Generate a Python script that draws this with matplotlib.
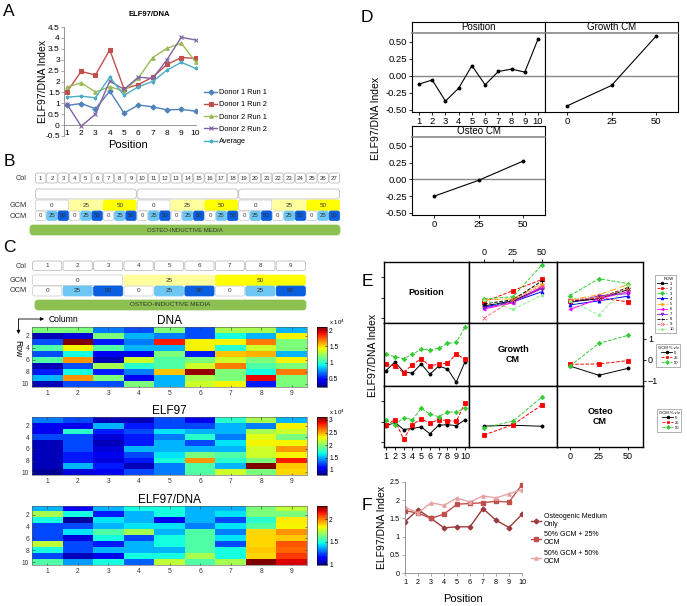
import numpy as np
import matplotlib
matplotlib.use('Agg')
import matplotlib.pyplot as plt
from matplotlib.patches import FancyBboxPatch
from matplotlib.lines import Line2D

plt.rcParams['font.family'] = ['Liberation Sans', 'DejaVu Sans']

# ---------------- data ----------------
positions = np.arange(1, 11)

# panel A
donor1_run1 = [0.90, 0.99, 0.75, 1.56, 0.55, 0.92, 0.84, 0.70, 0.72, 0.64]
donor1_run2 = [1.52, 2.46, 2.30, 3.45, 1.66, 1.86, 2.20, 2.78, 3.10, 3.06]
donor2_run1 = [1.74, 1.94, 1.52, 1.76, 1.56, 2.16, 3.10, 3.52, 3.76, 2.90]
donor2_run2 = [0.97, -0.05, 0.50, 2.02, 1.64, 2.20, 2.14, 3.00, 4.03, 3.90]
average = [1.28, 1.33, 1.25, 2.20, 1.36, 1.76, 2.00, 2.52, 2.88, 2.60]
a_labels = ['Donor 1 Run 1', 'Donor 1 Run 2', 'Donor 2 Run 1', 'Donor 2 Run 2', 'Average']

# panels B / C (plate layout)
b_cols = list(range(1, 28))
b_gcm = [0, 25, 50] * 3
b_ocm = [0, 25, 50] * 9
c_cols = list(range(1, 10))
c_gcm = [0, 25, 50]
c_ocm = [0, 25, 50] * 3

# heatmaps (rows 1..10, columns 1..9)
dna = [[1.18, 1.18, 0.71, 0.62, 1.18, 0.62, 1.27, 1.27, 0.81],
       [0.34, 0.40, 1.18, 0.81, 0.71, 0.62, 0.95, 0.81, 1.45],
       [0.62, 2.10, 0.53, 0.71, 1.88, 1.45, 1.45, 1.69, 1.18],
       [1.08, 1.45, 1.08, 0.81, 0.81, 1.45, 0.99, 1.36, 1.18],
       [0.62, 0.95, 0.44, 0.44, 1.18, 0.53, 1.55, 1.58, 0.81],
       [1.08, 1.64, 0.34, 1.36, 1.08, 1.18, 1.36, 1.18, 1.45],
       [0.34, 0.62, 1.27, 0.99, 1.08, 1.36, 1.69, 1.08, 1.18],
       [0.53, 0.95, 0.53, 0.71, 1.55, 2.06, 1.18, 0.95, 1.69],
       [0.81, 1.64, 1.18, 0.44, 0.81, 1.27, 1.18, 1.92, 1.18],
       [0.34, 0.62, 0.62, 1.18, 0.81, 1.36, 1.45, 0.53, 1.18]]
elf97 = [[1.38, 1.26, 0.92, 0.92, 1.26, 1.03, 1.73, 2.08, 1.50],
         [1.03, 1.03, 1.50, 1.15, 1.26, 1.26, 1.50, 1.38, 2.31],
         [1.03, 1.73, 1.15, 1.26, 1.61, 1.50, 1.50, 2.08, 2.19],
         [1.26, 1.26, 0.99, 1.15, 1.38, 1.73, 1.38, 2.24, 1.96],
         [0.92, 1.26, 0.92, 1.15, 1.50, 1.26, 1.61, 2.31, 2.31],
         [0.92, 1.26, 0.99, 1.50, 1.50, 1.50, 1.50, 2.19, 2.54],
         [0.92, 1.15, 1.03, 1.26, 1.61, 1.96, 1.84, 2.19, 2.31],
         [0.92, 1.15, 0.99, 1.15, 1.68, 2.54, 1.73, 1.96, 2.84],
         [0.92, 1.50, 1.15, 0.92, 1.38, 1.84, 1.50, 3.12, 2.42],
         [0.85, 0.99, 1.03, 1.26, 1.38, 1.84, 2.19, 1.96, 2.38]]
ratio = [[1.38, 1.14, 1.38, 1.48, 1.48, 1.38, 1.38, 1.64, 1.75],
         [1.71, 1.48, 1.18, 1.38, 1.48, 1.38, 1.44, 1.64, 1.64],
         [1.48, 1.02, 1.44, 1.38, 1.11, 1.38, 1.24, 1.51, 1.85],
         [1.24, 1.24, 1.38, 1.44, 1.44, 1.31, 1.44, 1.57, 1.84],
         [1.24, 1.44, 1.57, 1.71, 1.38, 1.57, 1.31, 1.88, 1.97],
         [1.24, 1.09, 1.48, 1.24, 1.48, 1.57, 1.44, 1.88, 1.90],
         [1.75, 1.24, 1.18, 1.38, 1.48, 1.57, 1.24, 1.88, 2.06],
         [1.48, 1.24, 1.38, 1.38, 1.38, 1.57, 1.48, 1.90, 2.04],
         [1.24, 1.05, 1.11, 1.48, 1.48, 1.71, 1.48, 1.88, 2.10],
         [1.57, 1.35, 1.48, 1.27, 1.75, 1.57, 1.71, 2.30, 2.19]]
dna_clim = (0.25, 2.1)
elf_clim = (0.8, 3.12)
ratio_clim = (0.98, 2.3)

# panel D main effects
levels = [0, 25, 50]
d_position = [-0.12, -0.06, -0.37, -0.18, 0.15, -0.13, 0.065, 0.10, 0.055, 0.54]
d_growth = [-0.44, -0.14, 0.58]
d_osteo = [-0.25, -0.015, 0.27]

# panel E interactions
row_vs_gcm = [[-0.40, -0.15, 0.50], [-0.20, 0.35, 0.90], [-0.05, 0.05, 1.62],
              [-0.45, -0.20, 0.30], [-0.10, -0.05, 0.70], [-0.55, -0.25, 0.55],
              [-0.50, -0.20, 0.45], [-0.30, -0.10, 0.83], [-1.00, -0.10, 0.60],
              [-0.10, -0.57, 0.14]]
row_vs_ocm = [[-0.20, -0.05, 0.40], [-0.15, 0.00, -0.20], [0.11, 0.94, 0.70],
              [-0.35, -0.15, 0.08], [-0.10, 0.15, 0.65], [-0.57, -0.05, 0.30],
              [-0.25, 0.10, 0.20], [-0.20, 0.00, 0.50], [-0.10, 0.00, 0.45],
              [-0.15, -0.84, 0.65]]
gcm_vs_pos = [[-0.51, -0.10, -0.56, -0.63, -0.19, -0.68, -0.29, -0.43, -1.06, -0.08],
              [-0.19, -0.29, -0.60, -0.22, 0.06, -0.29, -0.19, -0.16, 0.29, 0.03],
              [0.27, 0.16, 0.06, 0.27, 0.51, 0.48, 0.56, 0.79, 0.84, 1.56]]
gcm_vs_ocm = [[-0.29, -0.73, -0.40], [-0.21, -0.19, -0.03], [-0.29, 0.79, 1.17]]
ocm_vs_pos = [[-0.22, -0.02, -0.38, -0.33, -0.25, -0.59, -0.17, -0.14, -0.19, 0.10],
              [-0.17, 0.10, -0.86, -0.14, 0.14, -0.06, 0.10, 0.06, 0.02, 0.94],
              [0.10, -0.17, 0.21, 0.10, 0.67, 0.38, 0.25, 0.49, 0.46, 0.70]]
ocm_vs_gcm = [[-0.21, -0.17, -0.22], [-0.65, -0.14, 0.83], [-0.30, 0.03, 1.22]]

# panel F
osteo_only = [1.41, 1.74, 1.50, 1.24, 1.27, 1.27, 1.77, 1.45, 1.25, 1.61]
gcm50_ocm25 = [1.71, 1.65, 1.50, 1.62, 1.89, 1.91, 1.93, 1.97, 1.95, 2.43]
gcm50_ocm50 = [1.81, 1.65, 1.93, 1.86, 2.06, 1.95, 2.12, 2.06, 2.18, 2.29]
f_labels = ['Osteogenic Medium\nOnly', '50% GCM + 25%\nOCM', '50% GCM + 50%\nOCM']

# ---------------- figure ----------------
W, H = 687, 606
fig = plt.figure(figsize=(W / 100, H / 100), dpi=100)


def px_axes(x0, y0, x1, y1):
    return fig.add_axes([x0 / W, 1 - y1 / H, (x1 - x0) / W, (y1 - y0) / H])


def ftext(x, y, s, **kw):
    kw.setdefault('ha', 'center')
    kw.setdefault('va', 'center')
    return fig.text(x / W, 1 - y / H, s, **kw)


ov = px_axes(0, 0, W, H)
ov.set_xlim(0, W)
ov.set_ylim(H, 0)
ov.axis('off')


def box(x0, y0, x1, y1, fc='white', ec='#b0b0b0', txt=None, fs=4.5, tc='#333333', r=2.0):
    p = FancyBboxPatch((x0, y0), x1 - x0, y1 - y0,
                       boxstyle='round,pad=0,rounding_size=%g' % r,
                       fc=fc, ec=ec, lw=0.5)
    ov.add_patch(p)
    if txt is not None:
        ov.text((x0 + x1) / 2, (y0 + y1) / 2, txt, ha='center', va='center', fontsize=fs, color=tc)


gcm_fill = {0: 'white', 25: '#ffff9e', 50: '#ffff00'}
ocm_fill = {0: 'white', 25: '#6ec6f5', 50: '#0a5ee0'}
green = '#8cc152'
grey_axis = '#868686'

# panel letters
for s, (x, y) in zip('ABCDEF', [(9, 11), (9, 162), (9, 247), (367, 17), (367, 282), (367, 505)]):
    ftext(x, y, s, fontsize=12.5)

# ---------------- A ----------------
axA = px_axes(64, 27, 197, 136)
a_series = [donor1_run1, donor1_run2, donor2_run1, donor2_run2, average]
a_colors = ['#4f81bd', '#c0504d', '#9bbb59', '#8064a2', '#4bacc6']
a_markers = ['D', 's', '^', 'x', (6, 2, 0)]
for vals, c, m, lab in zip(a_series, a_colors, a_markers, a_labels):
    axA.plot(positions, vals, color=c, marker=m, ms=2.6, mew=0.8, lw=1.0, label=lab)
axA.set_xlim(0.8, 10.1)
axA.set_ylim(-0.5, 4.5)
axA.set_yticks(np.arange(-0.5, 4.6, 0.5))
axA.set_yticklabels(['%g' % v for v in np.arange(-0.5, 4.6, 0.5)])
axA.set_xticks(positions)
axA.axhline(0, color=grey_axis, lw=0.6, zorder=0)
for s in ['top', 'right', 'bottom']:
    axA.spines[s].set_visible(False)
axA.spines['left'].set_color(grey_axis)
axA.spines['left'].set_linewidth(0.6)
axA.tick_params(axis='y', labelsize=6, length=2, width=0.5, color=grey_axis, pad=1)
axA.tick_params(axis='x', labelsize=6, length=0, pad=-4)
axA.patch.set_alpha(0)
axA.legend(loc='upper left', bbox_to_anchor=(204 / W, 1 - 89 / H), bbox_transform=fig.transFigure,
           frameon=False, fontsize=5.3, handlelength=1.8, labelspacing=0.7, borderpad=0,
           handletextpad=0.3, borderaxespad=0)
ftext(149, 15, 'ELF97/DNA', fontsize=5.5, fontweight='bold')
ftext(43, 81, 'ELF97/DNA Index', fontsize=7.5, rotation=90)
ftext(128, 145, 'Position', fontsize=8)

# ---------------- B ----------------
bx0, bx1 = 35, 340
cw = (bx1 - bx0) / len(b_cols)
for i, c in enumerate(b_cols):
    box(bx0 + i * cw + 0.4, 173, bx0 + (i + 1) * cw - 0.4, 183, txt=str(c), fs=4.3)
for g in range(3):
    box(bx0 + g * 9 * cw + 0.4, 189, bx0 + (g + 1) * 9 * cw - 0.4, 199, r=3)
for i, lv in enumerate(b_gcm):
    box(bx0 + i * 3 * cw + 0.4, 200, bx0 + (i + 1) * 3 * cw - 0.4, 210.5,
        fc=gcm_fill[lv], ec='#c8c8c8' if lv == 0 else gcm_fill[lv], txt=str(lv), fs=4.5)
for i, lv in enumerate(b_ocm):
    box(bx0 + i * cw + 0.4, 211, bx0 + (i + 1) * cw - 0.4, 220.5,
        fc=ocm_fill[lv], ec='#c8c8c8' if lv == 0 else ocm_fill[lv], txt=str(lv), fs=4.3)
box(30, 225, 340, 235, fc=green, ec=green, txt='OSTEO-INDUCTIVE MEDIA', fs=4.3, r=3)
ftext(27, 178, 'Col', fontsize=5.3, ha='right', color='#333333')
ftext(27, 205.5, 'GCM', fontsize=5.3, ha='right', color='#333333')
ftext(27, 216, 'OCM', fontsize=5.3, ha='right', color='#333333')

# ---------------- C ----------------
cx0, cx1 = 32, 306
cw = (cx1 - cx0) / len(c_cols)
for i, c in enumerate(c_cols):
    box(cx0 + i * cw + 0.6, 261, cx0 + (i + 1) * cw - 0.6, 270.5, txt=str(c), fs=4.5)
for i, lv in enumerate(c_gcm):
    box(cx0 + i * 3 * cw + 0.6, 275, cx0 + (i + 1) * 3 * cw - 0.6, 285.5,
        fc=gcm_fill[lv], ec='#c8c8c8' if lv == 0 else gcm_fill[lv], txt=str(lv), fs=4.6)
for i, lv in enumerate(c_ocm):
    box(cx0 + i * cw + 0.6, 286, cx0 + (i + 1) * cw - 0.6, 296,
        fc=ocm_fill[lv], ec='#c8c8c8' if lv == 0 else ocm_fill[lv], txt=str(lv), fs=4.6)
box(35, 300, 306, 310, fc=green, ec=green, txt='OSTEO-INDUCTIVE MEDIA', fs=4.6, r=3)
ftext(27, 266, 'Col', fontsize=5.3, ha='right', color='#333333')
ftext(27, 280, 'GCM', fontsize=5.3, ha='right', color='#333333')
ftext(27, 291, 'OCM', fontsize=5.3, ha='right', color='#333333')

# arrows for heatmap orientation
ov.annotate('', xy=(44, 319), xytext=(18.5, 319),
            arrowprops=dict(arrowstyle='-|>', lw=0.6, color='black', mutation_scale=5, shrinkA=0, shrinkB=0))
ov.annotate('', xy=(18.5, 334), xytext=(18.5, 319),
            arrowprops=dict(arrowstyle='-|>', lw=0.6, color='black', mutation_scale=5, shrinkA=0, shrinkB=0))
ftext(49, 319, 'Column', fontsize=6.2, ha='left')
ftext(18, 349, 'Row', fontsize=6.2, rotation=-90)

heat = [(dna, dna_clim, 'DNA', 327, 387, [0.5, 1, 1.5, 2], True),
        (elf97, elf_clim, 'ELF97', 417, 475, [1, 1.5, 2, 2.5, 3], True),
        (ratio, ratio_clim, 'ELF97/DNA', 506, 565, [1, 1.5, 2], False)]
for mat, clim, title, y0, y1, cticks, sci in heat:
    ax = px_axes(32, y0, 307, y1)
    im = ax.imshow(np.array(mat), cmap='jet', vmin=clim[0], vmax=clim[1], aspect='auto',
                   interpolation='nearest', extent=(0.5, 9.5, 10.5, 0.5))
    ax.set_xticks(c_cols)
    ax.set_yticks([2, 4, 6, 8, 10])
    ax.tick_params(labelsize=4.8, length=1.8, width=0.4, direction='in', top=True, right=True,
                   pad=2, colors='#333333')
    for s in ax.spines.values():
        s.set_linewidth(0.4)
        s.set_color('#555555')
    ax.set_title(title, fontsize=8.5, pad=2)
    cax = px_axes(317, y0, 327, y1)
    cb = fig.colorbar(im, cax=cax)
    cb.set_ticks(cticks)
    cb.ax.set_yticklabels(['%g' % t for t in cticks])
    cb.ax.tick_params(labelsize=4.8, length=1.8, width=0.4, direction='in', pad=1.5)
    cb.outline.set_linewidth(0.4)
    if sci:
        ftext(329, y0 - 5, r'x 10$^4$', fontsize=4.3, ha='left')


# ---------------- D ----------------
def d_panel(x0, y0, x1, y1, name, xs, ys, xlim, xticks, ylab):
    ax = px_axes(x0, y0 + 11, x1, y1)
    st = px_axes(x0, y0, x1, y0 + 11)
    ax.axhline(0, color='#888888', lw=1.0, zorder=1)
    ax.plot(xs, ys, color='black', lw=0.8, marker='o', ms=1.8, zorder=2)
    ax.set_xlim(*xlim)
    ax.set_ylim(-0.53, 0.63)
    ax.set_xticks(xticks)
    if ylab:
        ax.set_yticks([-0.5, -0.25, 0, 0.25, 0.5])
        ax.set_yticklabels(['%.2f' % v for v in [-0.5, -0.25, 0, 0.25, 0.5]])
    else:
        ax.set_yticks([])
    ax.tick_params(labelsize=6.8, length=2.5, width=0.6, pad=1)
    for s in ax.spines.values():
        s.set_linewidth(0.8)
    ax.spines['top'].set_visible(False)
    st.set_xticks([])
    st.set_yticks([])
    for s in st.spines.values():
        s.set_linewidth(0.8)
    st.spines['bottom'].set_color('#888888')
    st.spines['bottom'].set_linewidth(1.2)
    st.text(0.5, 0.5, name, transform=st.transAxes, ha='center', va='center', fontsize=7)


d_panel(412, 22, 545, 112, 'Position', positions, d_position, (0.47, 10.53), positions, True)
d_panel(545, 22, 678, 112, 'Growth CM', levels, d_growth, (-12.5, 62.5), levels, False)
d_panel(412, 126, 545, 215, 'Osteo CM', levels, d_osteo, (-12.5, 62.5), levels, True)
ftext(376, 118, 'ELF97/DNA Index', fontsize=7.5, rotation=90)

# ---------------- E ----------------
e_cols = [(384, 469), (469, 557), (557, 643)]
e_rows = [(262, 323), (323, 386), (386, 447)]
e_xlims = [(0.77, 10.45), (-13, 63), (-11.2, 63)]
e_ylim = (-1.24, 1.76)
row_colors = ['black', '#ff0000', '#33cc33', '#0000ff', '#ffa500', '#ff00ff', '#8b1fcc', 'black',
              '#ff6a6a', '#90ee90']
row_markers = ['o', 's', 'D', '^', 'P', '<', 'v', '+', 'x', '*']
row_ls = ['-', '--', '--', '-', '-.', '-', '-', '--', '--', '--']
lvl_colors = ['black', '#ff0000', '#33cc33']
lvl_markers = ['o', 's', 'D']
lvl_ls = ['-', '--', '--']

eax = {}
for i, (ry0, ry1) in enumerate(e_rows):
    for j, (cx0_, cx1_) in enumerate(e_cols):
        ax = px_axes(cx0_, ry0, cx1_, ry1)
        ax.set_xlim(*e_xlims[j])
        ax.set_ylim(*e_ylim)
        ax.set_xticks([])
        ax.set_yticks([])
        for s in ax.spines.values():
            s.set_linewidth(1.0)
        eax[(i, j)] = ax

diag = ['Position', 'Growth\nCM', 'Osteo\nCM']
for k in range(3):
    eax[(k, k)].text(0.5, 0.5, diag[k], transform=eax[(k, k)].transAxes, ha='center', va='center',
                     fontsize=6.5, fontweight='bold', linespacing=1.1)


def e_lines(ax, xs, series, colors, markers, lss):
    for ys, c, m, ls in zip(series, colors, markers, lss):
        ax.plot(xs, ys, color=c, marker=m, ms=2.2, mew=0.6, lw=0.7, ls=ls)


e_lines(eax[(0, 1)], levels, row_vs_gcm, row_colors, row_markers, row_ls)
e_lines(eax[(0, 2)], levels, row_vs_ocm, row_colors, row_markers, row_ls)
e_lines(eax[(1, 0)], positions, gcm_vs_pos, lvl_colors, lvl_markers, lvl_ls)
e_lines(eax[(1, 2)], levels, gcm_vs_ocm, lvl_colors, lvl_markers, lvl_ls)
e_lines(eax[(2, 0)], positions, ocm_vs_pos, lvl_colors, lvl_markers, lvl_ls)
e_lines(eax[(2, 1)], levels, ocm_vs_gcm, lvl_colors, lvl_markers, lvl_ls)

tk = dict(labelsize=6.5, length=2.5, width=0.6, pad=1)
eax[(0, 1)].xaxis.tick_top()
eax[(0, 1)].set_xticks(levels)
eax[(0, 1)].tick_params(**tk)
eax[(2, 0)].set_xticks(positions)
eax[(2, 0)].tick_params(**tk)
eax[(2, 2)].set_xticks(levels)
eax[(2, 2)].tick_params(**tk)
eax[(1, 2)].yaxis.tick_right()
eax[(1, 2)].set_yticks([-1, 0, 1])
eax[(1, 2)].tick_params(**tk)
for r in (0, 2):
    eax[(r, 0)].set_yticks([-1, 0, 1])
    eax[(r, 0)].set_yticklabels([])
    eax[(r, 0)].tick_params(**tk)


def e_legend(x, y, title, labels, colors, markers, lss):
    hs = [Line2D([], [], color=c, marker=m, ls=ls, lw=0.6, ms=2, mew=0.5)
          for c, m, ls in zip(colors, markers, lss)]
    lg = fig.legend(hs, labels, loc='upper left', bbox_to_anchor=(x / W, 1 - y / H), fontsize=3,
                    title=title, title_fontsize=3, frameon=True, fancybox=False, borderpad=0.4,
                    labelspacing=0.25, handlelength=2.5, handletextpad=0.6, alignment='right')
    lg.get_frame().set_linewidth(0.5)
    lg.get_frame().set_edgecolor('#777777')


e_legend(653, 273, 'ROW', [str(r) for r in positions], row_colors, row_markers, row_ls)
e_legend(654, 342, 'GCM % v/v', [str(v) for v in levels], lvl_colors, lvl_markers, lvl_ls)
e_legend(655, 407, 'OCM % v/v', [str(v) for v in levels], lvl_colors, lvl_markers, lvl_ls)
ftext(373, 355, 'ELF97/DNA Index', fontsize=7.5, rotation=90)

# ---------------- F ----------------
axF = px_axes(405, 482, 522, 573)
f_series = [osteo_only, gcm50_ocm25, gcm50_ocm50]
f_colors = ['#9c3b3b', '#c0504d', '#e6a3a3']
f_markers = ['D', 's', '^']
for vals, c, m, lab in zip(f_series, f_colors, f_markers, f_labels):
    axF.plot(positions, vals, color=c, marker=m, ms=2.4, lw=1.0, label=lab)
axF.set_xlim(1, 10)
axF.set_ylim(0, 2.5)
axF.set_xticks(positions)
axF.set_yticks(np.arange(0, 2.6, 0.5))
axF.set_yticklabels(['%g' % v for v in np.arange(0, 2.6, 0.5)])
for s in ['top', 'right']:
    axF.spines[s].set_visible(False)
for s in ['left', 'bottom']:
    axF.spines[s].set_color(grey_axis)
    axF.spines[s].set_linewidth(0.6)
axF.tick_params(labelsize=5.2, length=2, width=0.5, color=grey_axis, pad=2)
axF.patch.set_alpha(0)
axF.legend(loc='upper left', bbox_to_anchor=(531 / W, 1 - 513 / H), bbox_transform=fig.transFigure,
           frameon=False, fontsize=5, handlelength=1.5, labelspacing=0.5, borderpad=0,
           handletextpad=0.3, borderaxespad=0)
ftext(382, 527, 'ELF97/DNA Index', fontsize=7.5, rotation=90)
ftext(463, 599, 'Position', fontsize=8)

fig.savefig('out.png', dpi=100)
